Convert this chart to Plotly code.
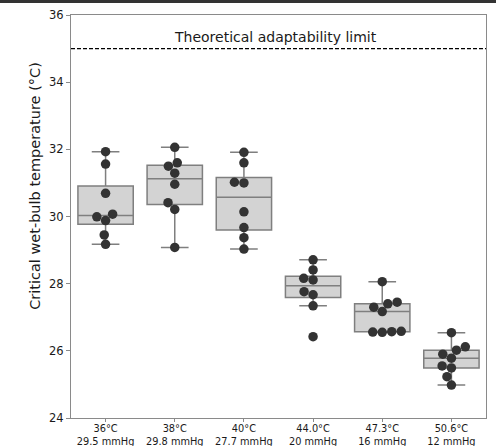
import numpy as np
import plotly.graph_objects as go

categories = ["36°C<br>29.5 mmHg", "38°C<br>29.8 mmHg", "40°C<br>27.7 mmHg",
              "44.0°C<br>20 mmHg", "47.3°C<br>16 mmHg", "50.6°C<br>12 mmHg"]
g36 = [31.93, 31.56, 30.69, 30.07, 29.99, 29.88, 29.45, 29.17]
g38 = [32.06, 31.60, 31.50, 31.29, 30.96, 30.41, 30.21, 29.08]
g40 = [31.91, 31.60, 31.02, 31.00, 30.14, 29.67, 29.37, 29.03]
g44 = [28.71, 28.41, 28.16, 28.11, 27.76, 27.67, 27.34, 26.42]
g47 = [28.06, 27.45, 27.40, 27.30, 27.17, 26.58, 26.57, 26.56, 26.55]
g50 = [26.54, 26.12, 26.02, 25.90, 25.78, 25.55, 25.49, 25.23, 24.98]
groups = [g36, g38, g40, g44, g47, g50]
limit_value = 35.0
limit_label = "Theoretical adaptability limit"
y_title = "Critical wet-bulb temperature (°C)"
y_ticks = [24, 26, 28, 30, 32, 34, 36]

W, H = 496, 446
ml, mr, mt, mb = 71, 10, 15, 28
px_x = (W - ml - mr) / 6.0
px_y = (H - mt - mb) / 12.0
dot = 9.5

def swarm(vals):
    order = np.argsort(vals)
    placed = []
    offs = np.zeros(len(vals))
    for i in order:
        yi = vals[i] * px_y
        cands = [0.0]
        for (xj, yj) in placed:
            dy = yi - yj
            if abs(dy) < dot:
                dx = np.sqrt(dot ** 2 - dy ** 2)
                cands += [xj - dx, xj + dx]
        cands = sorted(cands, key=lambda c: (abs(c), c))
        for c in cands:
            if all((c - xj) ** 2 + (yi - yj) ** 2 >= dot ** 2 - 1e-6 for xj, yj in placed):
                offs[i] = c
                placed.append((c, yi))
                break
    return offs / px_x

fig = go.Figure()
for k, vals in enumerate(groups):
    v = np.array(vals)
    q1, med, q3 = np.percentile(v, [25, 50, 75])
    iqr = q3 - q1
    lo = v[v >= q1 - 1.5 * iqr].min()
    hi = v[v <= q3 + 1.5 * iqr].max()
    fig.add_trace(go.Box(
        x=[k], q1=[q1], median=[med], q3=[q3], lowerfence=[lo], upperfence=[hi],
        width=0.8, whiskerwidth=0.5, fillcolor="#d3d3d3",
        line=dict(color="#7f7f7f", width=1.5), boxpoints=False,
        showlegend=False, hoverinfo="skip"))
    offs = swarm(v)
    fig.add_trace(go.Scatter(
        x=k + offs, y=v, mode="markers",
        marker=dict(size=dot, color="#333333", line=dict(width=0)),
        showlegend=False))

fig.add_shape(type="line", xref="paper", x0=0, x1=1, y0=limit_value, y1=limit_value,
              line=dict(color="black", width=1.3, dash="4px,2px"))
fig.add_annotation(x=2.45, y=limit_value, text=limit_label, showarrow=False,
                   yanchor="bottom", yshift=2,
                   font=dict(family="DejaVu Sans", size=14, color="#1a1a1a"))
fig.add_annotation(xref="paper", yref="paper", x=0, y=0.576, xanchor="center",
                   yanchor="middle", xshift=-36, textangle=-90, text=y_title,
                   showarrow=False,
                   font=dict(family="DejaVu Sans", size=14.5, color="#1a1a1a"))
fig.add_shape(type="line", xref="paper", yref="paper", x0=-0.2, x1=1.2,
              y0=1 + (mt - 1.5) / (H - mt - mb), y1=1 + (mt - 1.5) / (H - mt - mb),
              line=dict(color="#333", width=3))

fig.update_layout(
    width=W, height=H, margin=dict(l=ml, r=mr, t=mt, b=mb),
    paper_bgcolor="white", plot_bgcolor="white",
    font=dict(family="DejaVu Sans", color="#1a1a1a"),
    xaxis=dict(range=[-0.5, 5.5], tickmode="array", tickvals=list(range(6)),
               ticktext=categories, tickfont=dict(size=9.8), showgrid=False,
               zeroline=False, showline=True, linecolor="#8a8a8a", linewidth=1.2,
               mirror=True, ticks="outside", ticklen=3, tickcolor="#8a8a8a",
               ticklabelstandoff=-2, automargin=False),
    yaxis=dict(range=[24, 36], tickmode="array", tickvals=y_ticks,
               tickfont=dict(size=11.5), showgrid=False, zeroline=False,
               showline=True, linecolor="#8a8a8a", linewidth=1.2, mirror=True,
               ticks="outside", ticklen=4, tickcolor="#8a8a8a", automargin=False),
)
fig.write_html("out.html")
